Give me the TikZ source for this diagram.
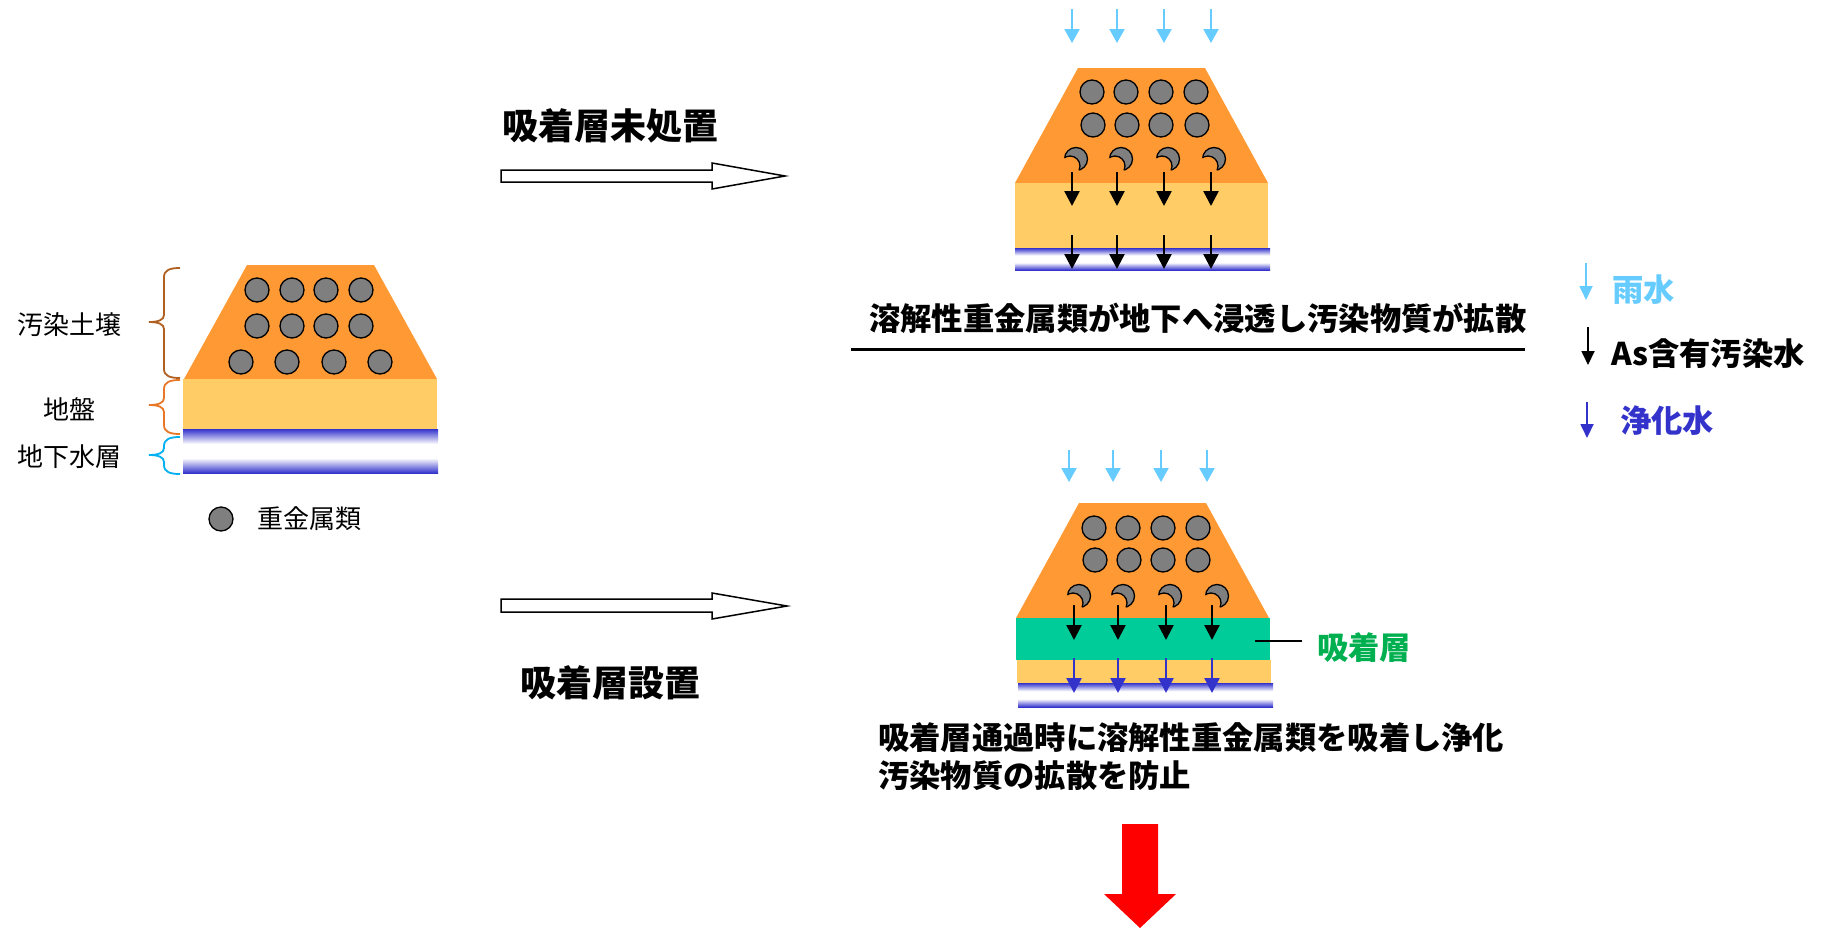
\documentclass[tikz,border=0pt]{standalone}
\usepackage{fontspec}
\setmainfont{Noto Sans CJK JP}
\usetikzlibrary{arrows.meta}

\definecolor{soilorange}{HTML}{FF9933}
\definecolor{groundyellow}{HTML}{FFCC66}
\definecolor{adsorbgreen}{HTML}{00CC99}
\definecolor{metalgray}{HTML}{7F7F7F}
\definecolor{bandblue}{HTML}{3333CC}
\definecolor{rainblue}{HTML}{66CCFF}
\definecolor{labelgreen}{HTML}{00B050}
\definecolor{bracebrown}{RGB}{176,96,32}
\definecolor{braceorange}{RGB}{232,120,40}
\definecolor{bracecyan}{RGB}{0,176,240}

% groundwater band: blue edges fading to white in the middle
\pgfdeclareverticalshading{aquifer}{100bp}{color(0bp)=(bandblue); color(25bp)=(bandblue); color(42bp)=(white); color(58bp)=(white); color(75bp)=(bandblue); color(100bp)=(bandblue)}

% curly brace at the left of the cross-section: colour, top y, tip y, bottom y
\newcommand\soilbrace[4]{%
  \draw[#1, line width=1.8pt] (180,#2) .. controls (170,#2) and (164,#2+2) .. (164,#2+9)
    -- (164,#3-7) .. controls (164,#3-2) and (158,#3) .. (149,#3)
    .. controls (158,#3) and (164,#3+2) .. (164,#3+7)
    -- (164,#4-9) .. controls (164,#4-2) and (170,#4) .. (180,#4);}

\tikzset{
  metal/.style={circle, fill=metalgray, draw=black, line width=1.3pt, minimum size=24pt, inner sep=0pt},
  rainarrow/.style={draw=rainblue, line width=2pt, -{Triangle[width=15pt,length=14pt]}},
  seeparrow/.style={draw=black, line width=2.5pt, -{Triangle[width=15pt,length=15pt]}},
  cleanarrow/.style={draw=bandblue, line width=2.5pt, -{Triangle[width=15pt,length=15pt]}},
  keyarrow/.style={line width=1.8pt, -{Triangle[width=13pt,length=14pt]}},
  txt/.style={inner sep=0pt, anchor=west},
  bigtxt/.style={txt, font=\bfseries\fontsize{36}{40}\selectfont},
  bodytxt/.style={txt, font=\bfseries\fontsize{31.3}{35}\selectfont},
  sidetxt/.style={inner sep=0pt, font=\fontsize{26}{30}\selectfont},
  hollowarrow/.style={draw=black, line width=1.5pt, fill=white},
  aquiferband/.style={shading=aquifer, shading angle=0},
  crescent/.pic={
    \fill[metalgray] (0,0) circle (11.5);
    \draw[line width=1.3pt] (0,0) circle (11.5);
    \fill[soilorange] (-6,7) circle (10);
    \begin{scope}
      \clip (0,0) circle (11.5);
      \draw[line width=1.3pt] (-6,7) circle (10);
    \end{scope}
  }
}

\begin{document}
\begin{tikzpicture}[x=1pt, y=-1pt]
\useasboundingbox (0,0) rectangle (1823,929);

% ---------- initial state (left) ----------
\fill[soilorange] (184,379) -- (247,265) -- (374,265) -- (437,379) -- cycle;
\fill[groundyellow] (183,379) rectangle (437,429);
\shade[aquiferband] (183,429) rectangle (438,473);
\foreach \x [count=\i] in {257,292,326,361} \node[metal] (la\i) at (\x,290) {};
\foreach \x [count=\i] in {257,292,326,361} \node[metal] (lb\i) at (\x,326) {};
\foreach \x [count=\i] in {241,287,334,380} \node[metal] (lc\i) at (\x,362) {};

\soilbrace{bracebrown}{268}{322}{378}
\soilbrace{braceorange}{380}{405}{434}
\soilbrace{bracecyan}{437}{455}{474}

\node[sidetxt] (soil) at (69,325) {汚染土壌};
\node[sidetxt] (ground) at (69,409) {地盤};
\node[sidetxt] (aquifer) at (69,457) {地下水層};

\node[metal] (legendmetal) at (221,519) {};
\node[sidetxt, anchor=west] (metaltxt) at (257,519) {重金属類};

% ---------- transition arrows ----------
\draw[hollowarrow] (501,170) -- (712,170) -- (712,163) -- (785,176) -- (712,189) -- (712,182) -- (501,182) -- cycle;
\node[bigtxt] (untreated) at (502,126) {吸着層未処置};

\draw[hollowarrow] (501,599) -- (712,599) -- (712,593) -- (787,606) -- (712,619) -- (712,612) -- (501,612) -- cycle;
\node[bigtxt] (treated) at (520,683) {吸着層設置};

% ---------- without adsorption layer (upper right) ----------
\fill[soilorange] (1015,183) -- (1078,68) -- (1205,68) -- (1268,183) -- cycle;
\fill[groundyellow] (1015,183) rectangle (1268,248);
\shade[aquiferband] (1015,248) rectangle (1270,270);
\foreach \x [count=\i] in {1092,1126,1161,1196} \node[metal] (ua\i) at (\x,92) {};
\foreach \x [count=\i] in {1093,1127,1161,1197} \node[metal] (ub\i) at (\x,125) {};
\foreach \x in {1076,1121,1168,1214} \pic at (\x,159) {crescent};
\foreach \x in {1072,1117,1164,1211} {
  \draw[rainarrow] (\x,9) -- (\x,43);
  \draw[seeparrow] (\x,172) -- (\x,206);
  \draw[seeparrow] (\x,235) -- (\x,269);
}
\node[bodytxt] (spread) at (869,318) {溶解性重金属類が地下へ浸透し汚染物質が拡散};
\draw[line width=3pt] (851,349) -- (1525,349);

% ---------- legend ----------
\draw[keyarrow, draw=rainblue] (1586,263) -- (1586,300);
\node[bodytxt, text=rainblue] (rain) at (1612,290) {雨水};
\draw[keyarrow, draw=black] (1588,327) -- (1588,365);
\node[bodytxt] (aswater) at (1611,354) {As含有汚染水};
\draw[keyarrow, draw=bandblue] (1587,402) -- (1587,438);
\node[bodytxt, text=bandblue] (purified) at (1620,421) {浄化水};

% ---------- with adsorption layer (lower right) ----------
\fill[soilorange] (1016,618) -- (1079,503) -- (1206,503) -- (1269,618) -- cycle;
\fill[adsorbgreen] (1016,618) rectangle (1270,660);
\fill[groundyellow] (1017,660) rectangle (1271,683);
\shade[aquiferband] (1018,683) rectangle (1273,707);
\foreach \x [count=\i] in {1094,1128,1163,1198} \node[metal] (da\i) at (\x,528) {};
\foreach \x [count=\i] in {1095,1129,1163,1198} \node[metal] (db\i) at (\x,560) {};
\foreach \x in {1079,1123,1170,1217} \pic at (\x,596) {crescent};
\foreach \x in {1069,1113,1161,1207} \draw[rainarrow] (\x,450) -- (\x,482);
\foreach \x in {1074,1118,1166,1212} {
  \draw[seeparrow] (\x,605) -- (\x,640);
  \draw[cleanarrow] (\x,658) -- (\x,693);
}
\coordinate (layeredge) at (1255,641);
\node[bodytxt, text=labelgreen] (layer) at (1317,648) {吸着層};
\draw[line width=2pt] (layeredge) -- (1302,641);

\node[bodytxt] (result1) at (878,738) {吸着層通過時に溶解性重金属類を吸着し浄化};
\node[bodytxt] (result2) at (878,776) {汚染物質の拡散を防止};

% ---------- outcome arrow ----------
\fill[red] (1122,824) -- (1158,824) -- (1158,894) -- (1176,894) -- (1140,928) -- (1104,894) -- (1122,894) -- cycle;
\end{tikzpicture}
\end{document}
